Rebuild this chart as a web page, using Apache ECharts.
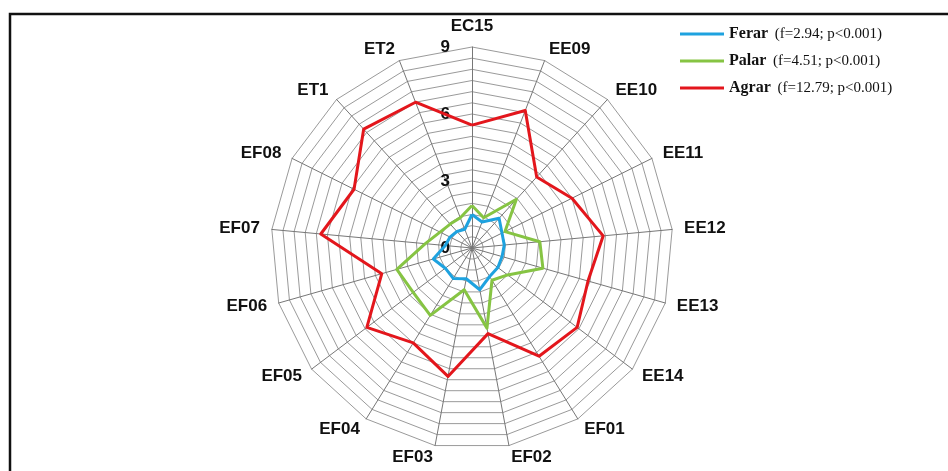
<!DOCTYPE html>
<html>
<head>
<meta charset="utf-8">
<script src="https://cdn.jsdelivr.net/npm/echarts@6/dist/echarts.min.js"></script>
<style>
html,body{margin:0;padding:0;background:#fff;}
#chart{width:948px;height:471px;}
</style>
</head>
<body>
<div id="chart"></div>
<script>
// Axes in clockwise order starting from the top
const categories = ['EC15','EE09','EE10','EE11','EE12','EE13','EE14','EF01','EF02','EF03','EF04','EF05','EF06','EF07','EF08','ET1','ET2'];
const ferar = [1.5, 1.25, 1.8, 1.5, 1.45, 1.4, 1.45, 1.5, 1.9, 1.4, 1.6, 1.5, 1.8, 1.2, 1.1, 1.0, 0.9];
const palar = [1.9, 1.45, 2.95, 1.65, 3.05, 3.3, 2.0, 1.7, 3.65, 1.9, 3.55, 3.3, 3.5, 2.1, 1.6, 1.45, 1.45];
const agrar = [5.5, 6.6, 4.3, 5.0, 5.9, 5.4, 5.9, 5.7, 3.9, 5.85, 5.0, 5.9, 4.2, 6.8, 5.9, 7.2, 7.0];
const seriesNames = ['Ferar','Palar','Agrar'];
const seriesStats = ['(f=2.94; p<0.001)','(f=4.51; p<0.001)','(f=12.79; p<0.001)'];
const seriesColors = ['#1ea2df','#86c443','#e3161c'];
const axisMax = 9;
const tickLabels = [0, 3, 6, 9];

// ECharts radar runs counter-clockwise: reorder so the picture reads clockwise
const order = [0].concat(categories.map((_, i) => i).slice(1).reverse());
const reorder = arr => order.map(i => arr[i]);

const indicator = order.map((i, k) => {
  const ind = { name: categories[i], max: axisMax, min: 0 };
  if (k === 0) {
    ind.axisLabel = {
      show: true,
      margin: 22,
      fontSize: 17,
      fontWeight: 'bold',
      fontFamily: 'Liberation Sans',
      color: '#111',
      formatter: v => (tickLabels.indexOf(Math.round(v * 100) / 100) >= 0 ? String(Math.round(v)) : '')
    };
  }
  return ind;
});

const values = [ferar, palar, agrar];
const chart = echarts.init(document.getElementById('chart'));
chart.setOption({
  backgroundColor: '#fff',
  animation: false,
  graphic: [{
    type: 'rect',
    shape: { x: 10, y: 14, width: 1000, height: 520 },
    style: { fill: 'none', stroke: '#111', lineWidth: 2.5 }
  }],
  legend: {
    orient: 'vertical',
    left: 675,
    top: 21,
    itemWidth: 44,
    itemHeight: 3,
    itemGap: 11,
    icon: 'rect',
    data: seriesNames,
    formatter: name => {
      const i = seriesNames.indexOf(name);
      return '{n|' + name + '}  {s|' + seriesStats[i] + '}';
    },
    textStyle: {
      rich: {
        n: { fontFamily: 'Liberation Serif', fontWeight: 'bold', fontSize: 16, color: '#111' },
        s: { fontFamily: 'Liberation Serif', fontSize: 15, color: '#111' }
      }
    }
  },
  radar: {
    center: [472, 248],
    radius: 201,
    startAngle: 90,
    splitNumber: 18,
    shape: 'polygon',
    indicator: indicator,
    nameGap: 12,
    axisName: {
      color: '#111',
      fontSize: 17,
      fontWeight: 'bold',
      fontFamily: 'Liberation Sans'
    },
    axisLine: { lineStyle: { color: '#777', width: 1 } },
    splitLine: { lineStyle: { color: '#9a9a9a', width: 1 } },
    splitArea: { show: false },
    axisLabel: { show: false },
    axisTick: { show: false }
  },
  series: [{
    type: 'radar',
    symbol: 'none',
    data: values.map((v, i) => ({
      name: seriesNames[i],
      value: reorder(v),
      lineStyle: { color: seriesColors[i], width: 3 },
      itemStyle: { color: seriesColors[i] }
    }))
  }]
});
</script>
</body>
</html>
